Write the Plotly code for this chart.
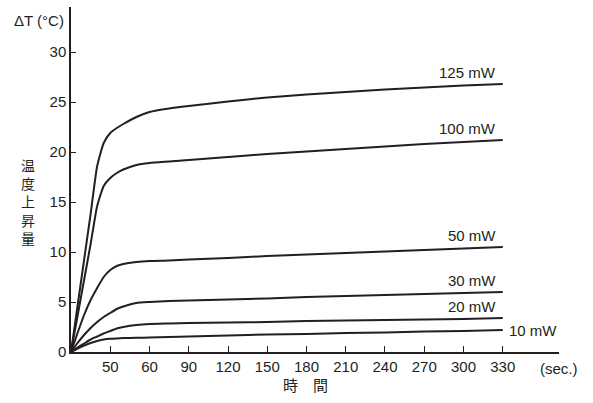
import plotly.graph_objects as go

time_s = [0, 5, 10, 15, 20, 25, 30, 35, 40, 50, 60, 75, 90, 120, 150, 180, 210, 240, 270, 300, 330]

p125 = [0, 4.6, 9.2, 13.8, 18.6, 20.9, 21.9, 22.4, 22.8, 23.5, 24.0, 24.35, 24.6, 25.05, 25.45, 25.75, 26.0, 26.25, 26.45, 26.65, 26.8]
p100 = [0, 3.6, 7.2, 10.8, 14.6, 16.6, 17.4, 17.9, 18.25, 18.7, 18.9, 19.05, 19.2, 19.5, 19.8, 20.05, 20.3, 20.55, 20.8, 21.0, 21.2]
p50 = [0, 1.9, 3.7, 5.2, 6.4, 7.5, 8.2, 8.6, 8.8, 9.0, 9.1, 9.15, 9.25, 9.4, 9.6, 9.75, 9.9, 10.05, 10.2, 10.35, 10.5]
p30 = [0, 0.9, 1.7, 2.4, 3.0, 3.5, 3.9, 4.3, 4.55, 4.9, 5.0, 5.1, 5.15, 5.25, 5.35, 5.5, 5.6, 5.7, 5.8, 5.9, 6.0]
p20 = [0, 0.45, 0.85, 1.25, 1.55, 1.85, 2.1, 2.35, 2.5, 2.7, 2.8, 2.85, 2.9, 2.95, 3.0, 3.1, 3.15, 3.2, 3.25, 3.3, 3.4]
p10 = [0, 0.35, 0.65, 0.9, 1.1, 1.25, 1.32, 1.36, 1.39, 1.42, 1.45, 1.5, 1.55, 1.65, 1.75, 1.8, 1.9, 1.95, 2.05, 2.1, 2.2]

series_names = ["125 mW", "100 mW", "50 mW", "30 mW", "20 mW", "10 mW"]
series_values = [p125, p100, p50, p30, p20, p10]

x_tickvals = [30, 60, 90, 120, 150, 180, 210, 240, 270, 300, 330]
x_ticktext = ["50", "60", "90", "120", "150", "180", "210", "240", "270", "300", "330"]
y_tickvals = [0, 5, 10, 15, 20, 25, 30]

INK = "#231f20"
FONT = "Liberation Sans, Arial, Helvetica, sans-serif"
CJK = "Noto Sans CJK JP, sans-serif"
FS = 15

fig = go.Figure()
for name, vals in zip(series_names, series_values):
    fig.add_trace(go.Scatter(x=time_s, y=vals, mode="lines", name=name,
                             line=dict(color=INK, width=2, shape="spline", smoothing=0.5),
                             showlegend=False, hoverinfo="skip"))

for name, vals in zip(series_names, series_values):
    if name == "10 mW":
        fig.add_annotation(x=time_s[-1], y=vals[-1], text=name, showarrow=False,
                           xanchor="left", yanchor="middle", xshift=4,
                           font=dict(family=FONT, size=FS, color=INK))
    else:
        fig.add_annotation(x=time_s[-1], y=vals[-1], text=name, showarrow=False,
                           xanchor="right", yanchor="bottom", xshift=-5, yshift=1,
                           font=dict(family=FONT, size=FS, color=INK))

fig.update_layout(
    width=593, height=403,
    margin=dict(l=71, r=34, t=7, b=51),
    paper_bgcolor="white", plot_bgcolor="white",
    font=dict(family=FONT, size=FS, color=INK),
    xaxis=dict(range=[0, 373], tickvals=x_tickvals, ticktext=x_ticktext,
               ticks="inside", ticklen=6, tickwidth=1, tickcolor=INK,
               showline=True, linecolor=INK, linewidth=1.5, showgrid=False,
               zeroline=False, tickfont=dict(family=FONT, size=FS, color=INK)),
    yaxis=dict(range=[0, 34.5], tickvals=y_tickvals,
               ticks="inside", ticklen=5, tickwidth=1, tickcolor=INK,
               showline=True, linecolor=INK, linewidth=1.5, showgrid=False,
               zeroline=False, tickfont=dict(family=FONT, size=FS, color=INK)),
)

fig.add_annotation(x=-0.01, y=1.0, xref="paper", yref="paper", text="ΔT (°C)",
                   showarrow=False, xanchor="right", yanchor="top", yshift=-3,
                   font=dict(family=FONT, size=FS, color=INK))
fig.add_annotation(x=-0.088, y=0.435, xref="paper", yref="paper",
                   text="温<br>度<br>上<br>昇<br>量", showarrow=False,
                   xanchor="center", yanchor="middle",
                   font=dict(family=CJK, size=14, color=INK))
fig.add_annotation(x=0.48, y=0, xref="paper", yref="paper", text="時　間",
                   showarrow=False, xanchor="center", yanchor="top", yshift=-20,
                   font=dict(family=CJK, size=15, color=INK))
fig.add_annotation(x=1.0, y=0, xref="paper", yref="paper", text="(sec.)",
                   showarrow=False, xanchor="center", yanchor="top", yshift=-6,
                   font=dict(family=FONT, size=FS, color=INK))

fig.write_html("out.html")
